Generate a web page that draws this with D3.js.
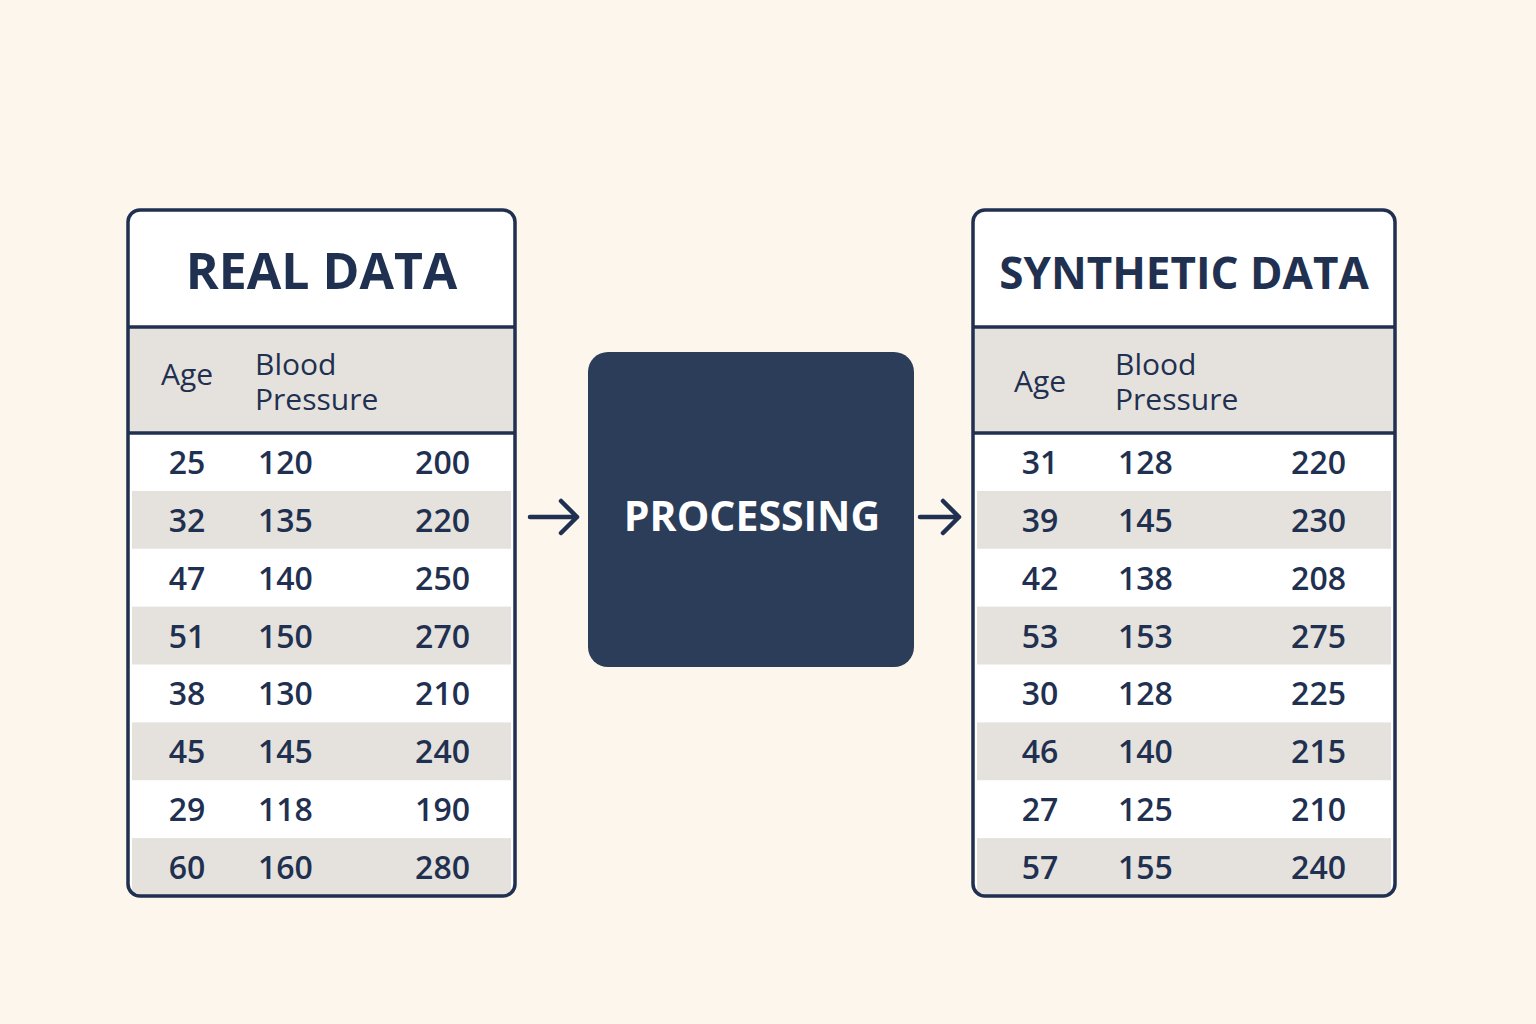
<!DOCTYPE html>
<html><head><meta charset="utf-8">
<script src="https://cdn.jsdelivr.net/npm/d3@7"></script>
<style>body{margin:0;background:#fcf6ec}</style></head>
<body><svg id="c" width="1536" height="1024"></svg>
<script>
const realAge=[25,32,47,51,38,45,29,60];
const realBP=[120,135,140,150,130,145,118,160];
const realThird=[200,220,250,270,210,240,190,280];
const synAge=[31,39,42,53,30,46,27,57];
const synBP=[128,145,138,153,128,140,125,155];
const synThird=[220,230,208,275,225,215,210,240];
const titles=["REAL DATA","SYNTHETIC DATA"];
const headers=["Age","Blood","Pressure"];
const centerLabel="PROCESSING";

const svg=d3.select("#c");
const ink="#1f3050", gray="#e5e2dd", font="'Open Sans', sans-serif";
svg.append("rect").attr("width",1536).attr("height",1024).attr("fill","#fcf6ec");

function table(x0,x1,title,age,bp,th,cols){
  const g=svg.append("g");
  const top=210,bottom=896,titleB=327,headB=433;
  const y=d3.scaleBand().domain(d3.range(age.length)).range([headB,bottom]);
  g.append("rect").attr("x",x0).attr("y",top).attr("width",x1-x0).attr("height",bottom-top).attr("rx",12).attr("fill","#fff");
  g.append("rect").attr("x",x0).attr("y",titleB).attr("width",x1-x0).attr("height",headB-titleB).attr("fill",gray);
  g.selectAll(".r").data(d3.range(age.length).filter(i=>i%2==1)).join("rect")
    .attr("x",x0+4).attr("y",i=>y(i)).attr("width",x1-x0-8).attr("height",y.bandwidth()).attr("fill",gray);
  g.append("rect").attr("x",x0).attr("y",top).attr("width",x1-x0).attr("height",bottom-top).attr("rx",12)
    .attr("fill","none").attr("stroke",ink).attr("stroke-width",3.5);
  [titleB,headB].forEach(v=>g.append("line").attr("x1",x0).attr("x2",x1).attr("y1",v).attr("y2",v).attr("stroke",ink).attr("stroke-width",3.5));
  g.append("text").attr("x",(x0+x1)/2).attr("y",289).attr("text-anchor","middle").attr("font-family",font)
    .attr("font-weight",700).attr("font-size",title.length>10?44:50).attr("fill",ink).text(title);
  g.append("text").attr("x",cols[0]).attr("y",cols[3]).attr("text-anchor","middle").attr("font-family",font).attr("font-size",30).attr("font-weight",500).attr("fill",ink).text(headers[0]);
  g.append("text").attr("x",cols[1]-3).attr("y",375).attr("font-family",font).attr("font-size",30).attr("font-weight",500).attr("fill",ink).text(headers[1]);
  g.append("text").attr("x",cols[1]-3).attr("y",410).attr("font-family",font).attr("font-size",30).attr("font-weight",500).attr("fill",ink).text(headers[2]);
  const rows=g.selectAll(".t").data(d3.range(age.length)).join("g")
    .attr("transform",i=>`translate(0,${y(i)+y.bandwidth()/2+12})`)
    .attr("font-family",font).attr("font-size",32).attr("font-weight",600).attr("fill",ink);
  rows.append("text").attr("x",cols[0]).attr("text-anchor","middle").text(i=>age[i]);
  rows.append("text").attr("x",cols[1]).text(i=>bp[i]);
  rows.append("text").attr("x",cols[2]).attr("text-anchor","end").text(i=>th[i]);
}
table(128,515,titles[0],realAge,realBP,realThird,[187,258,470,385]);
table(973,1395,titles[1],synAge,synBP,synThird,[1040,1118,1346,392]);

svg.append("rect").attr("x",588).attr("y",352).attr("width",326).attr("height",315).attr("rx",20).attr("fill","#2b3d58");
svg.append("text").attr("x",752).attr("y",531).attr("text-anchor","middle").attr("font-family",font)
  .attr("font-weight",700).attr("font-size",41).attr("fill","#fff").text(centerLabel);
function arrow(a,b){
  const yy=517;
  svg.append("path").attr("d",`M${a},${yy}H${b}M${b-16},${yy-16}L${b},${yy}L${b-16},${yy+16}`)
    .attr("fill","none").attr("stroke",ink).attr("stroke-width",4.5).attr("stroke-linecap","round").attr("stroke-linejoin","round");
}
arrow(530,577);arrow(920,959);
</script></body></html>
